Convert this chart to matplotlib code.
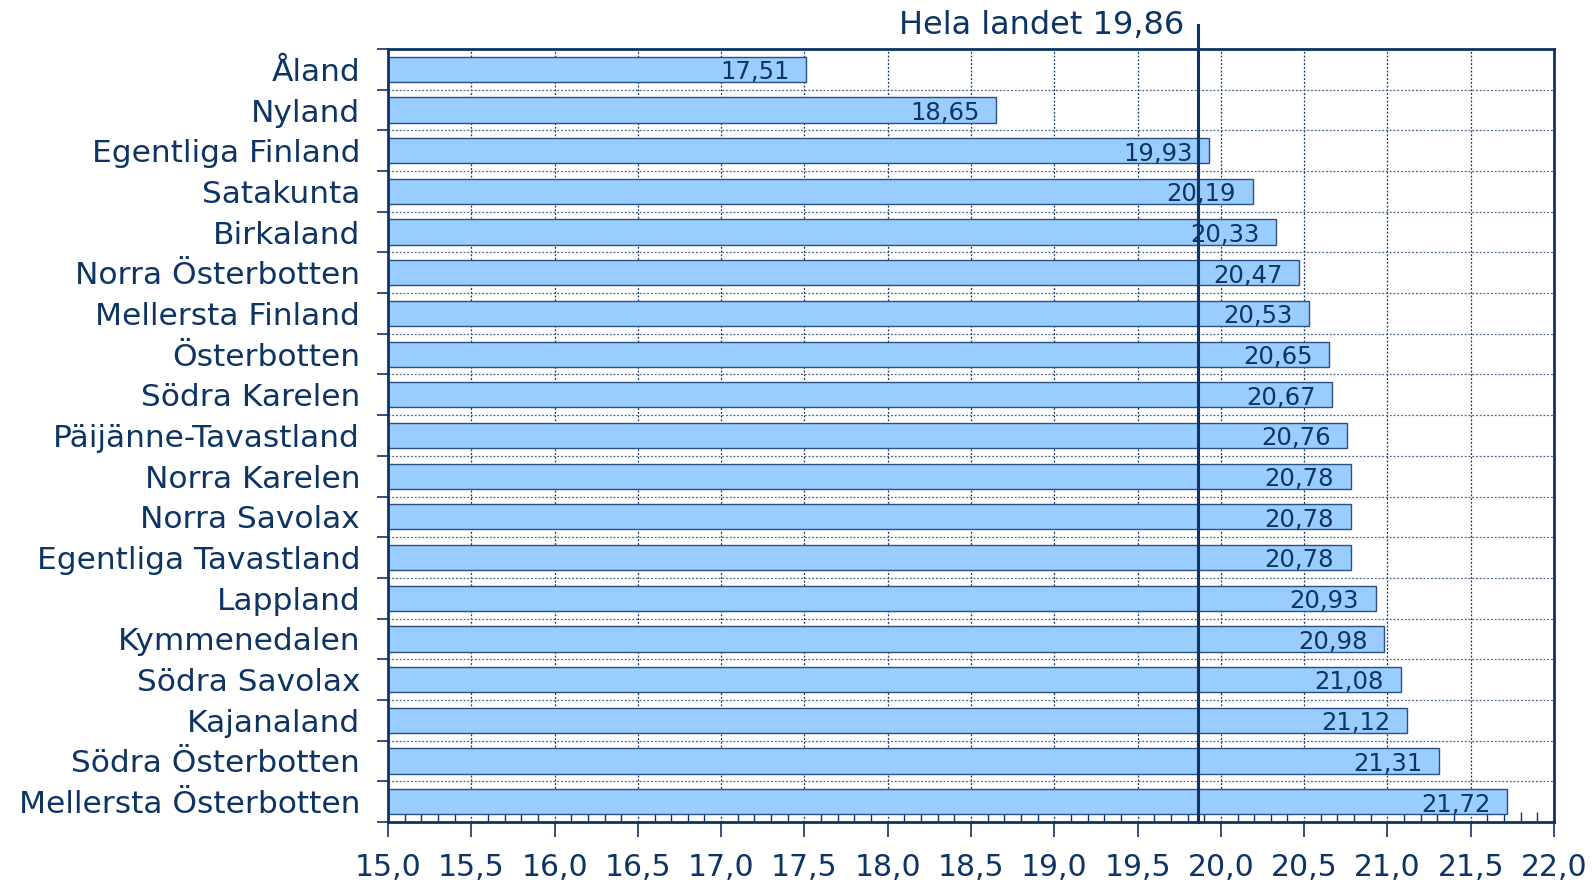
import numpy as np
import matplotlib.pyplot as plt
from matplotlib.ticker import MultipleLocator, FixedLocator

regions = ['Åland', 'Nyland', 'Egentliga Finland', 'Satakunta', 'Birkaland',
           'Norra Österbotten', 'Mellersta Finland', 'Österbotten',
           'Södra Karelen', 'Päijänne-Tavastland', 'Norra Karelen',
           'Norra Savolax', 'Egentliga Tavastland', 'Lappland',
           'Kymmenedalen', 'Södra Savolax', 'Kajanaland',
           'Södra Österbotten', 'Mellersta Österbotten']
values = [17.51, 18.65, 19.93, 20.19, 20.33, 20.47, 20.53, 20.65, 20.67,
          20.76, 20.78, 20.78, 20.78, 20.93, 20.98, 21.08, 21.12, 21.31, 21.72]
whole_country = 19.86
xticks = [15.0, 15.5, 16.0, 16.5, 17.0, 17.5, 18.0, 18.5, 19.0, 19.5,
          20.0, 20.5, 21.0, 21.5, 22.0]

navy = '#0d3463'
bar_col = '#99ccff'

def fmt(v, d):
    return ('%.*f' % (d, v)).replace('.', ',')

fig = plt.figure(figsize=(15.92, 8.82), dpi=100)
ax = fig.add_axes([388 / 1592, 1 - 822 / 882, (1554 - 388) / 1592, (822 - 49) / 882])

n = len(regions)
ypos = np.arange(n)
ax.barh(ypos, [v - 15.0 for v in values], left=15.0, height=0.62,
        color=bar_col, edgecolor='#2a4f80', linewidth=1.0, zorder=2)

for y, v in zip(ypos, values):
    ax.text(v - 0.1, y + 0.07, fmt(v, 2), ha='right', va='center',
            fontsize=17.5, color=navy, zorder=4)

ax.set_xlim(15.0, 22.0)
ax.set_ylim(n - 0.5, -0.5)

ax.set_xticks(xticks)
ax.set_xticklabels([fmt(t, 1) for t in xticks], fontsize=21.5, color=navy)
ax.xaxis.set_minor_locator(MultipleLocator(0.1))
ax.tick_params(axis='x', which='major', direction='out', length=11,
               width=1.2, color=navy, pad=11)
ax.tick_params(axis='x', which='minor', direction='in', length=7,
               width=1.0, color=navy)

ax.set_yticks(ypos)
ax.set_yticklabels(regions, fontsize=22.5, color=navy)
ax.tick_params(axis='y', which='major', length=0, pad=20)
ax.yaxis.set_minor_locator(FixedLocator(np.arange(n + 1) - 0.5))
ax.tick_params(axis='y', which='minor', direction='out', length=8,
               width=1.2, color=navy)

ax.grid(axis='x', which='major', linestyle=(0, (1.5, 1.5)), color=navy,
        linewidth=0.9, zorder=1)
ax.grid(axis='y', which='minor', linestyle=(0, (1.5, 1.5)), color='#4a6488',
        linewidth=0.9, zorder=1)
ax.set_axisbelow(True)

for s in ax.spines.values():
    s.set_color(navy)
    s.set_linewidth(2.0)

ax.plot([whole_country, whole_country], [n - 0.5, -1.1], color=navy,
        linewidth=2.2, clip_on=False, zorder=5)
ax.text(whole_country - 0.08, -1.08, 'Hela landet ' + fmt(whole_country, 2),
        ha='right', va='center', fontsize=23, color=navy)

fig.savefig('out.png', dpi=100)
